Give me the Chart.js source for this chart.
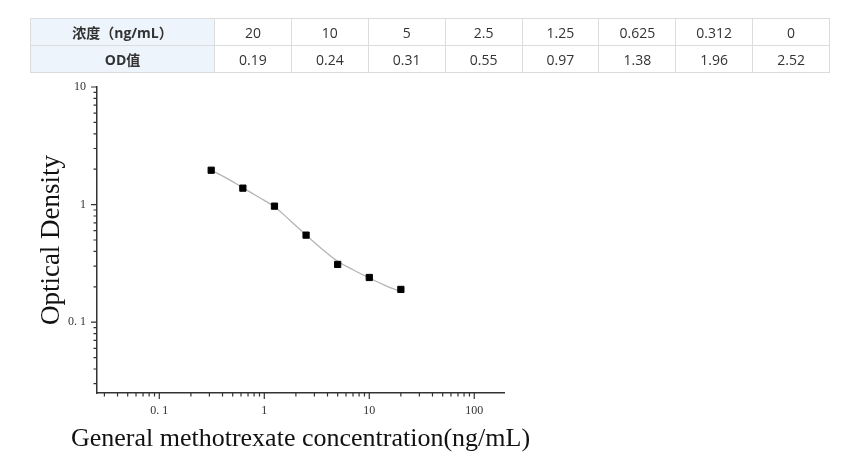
<!DOCTYPE html>
<html>
<head>
<meta charset="utf-8">
<script src="https://cdn.jsdelivr.net/npm/chart.js@4/dist/chart.umd.min.js"></script>
<style>
html,body{margin:0;padding:0;background:#fff;}
body{width:847px;height:457px;overflow:hidden;position:relative;}
#chart{position:absolute;left:0;top:0;}
#tbl{position:absolute;left:30px;top:18px;border-collapse:collapse;table-layout:fixed;width:800px;
  font-family:"Open Sans","Noto Sans CJK SC",sans-serif;font-size:14px;color:#333;z-index:2;}
#tbl td{border:1px solid #dcdcdc;padding:0;text-align:center;vertical-align:middle;}
#tbl tr{height:27px;}
#tbl td.h{background:#edf4fb;font-weight:bold;color:#333;}
</style>
</head>
<body>
<table id="tbl"><colgroup><col style="width:184px"></colgroup><tbody></tbody></table>
<canvas id="chart" width="847" height="457"></canvas>
<script>
// ---- data ----
const rowHeaders = ['浓度（ng/mL）', 'OD值'];
const tableConc = ['20', '10', '5', '2.5', '1.25', '0.625', '0.312', '0'];
const tableOD = ['0.19', '0.24', '0.31', '0.55', '0.97', '1.38', '1.96', '2.52'];

const conc = [20, 10, 5, 2.5, 1.25, 0.625, 0.312];
const od = [0.19, 0.24, 0.31, 0.55, 0.97, 1.38, 1.96];

// fitted curve
const curveX = [0.312, 0.44, 0.625, 0.88, 1.25, 1.77, 2.5, 3.54, 5, 7.07, 10, 14.1, 20];
const curveY = [1.96, 1.67, 1.39, 1.16, 0.96, 0.73, 0.55, 0.42, 0.33, 0.278, 0.238, 0.206, 0.182];

const xTickVals = [0.1, 1, 10, 100];
const xTickLabels = ['0. 1', '1', '10', '100'];
const yTickVals = [0.1, 1, 10];
const yTickLabels = ['0. 1', '1', '10'];

const xTitle = 'General methotrexate concentration(ng/mL)';
const yTitle = 'Optical Density';

// ---- table ----
const tbody = document.querySelector('#tbl tbody');
[[rowHeaders[0], tableConc], [rowHeaders[1], tableOD]].forEach(([h, vals]) => {
  const tr = document.createElement('tr');
  const th = document.createElement('td');
  th.className = 'h'; th.textContent = h; tr.appendChild(th);
  vals.forEach(v => { const td = document.createElement('td'); td.textContent = v; tr.appendChild(td); });
  tbody.appendChild(tr);
});

const serif = 'Liberation Serif';

// ---- tick marks (minor/major log ticks) and x-axis title ----
const logTicks = {
  id: 'logTicks',
  afterDraw(chart) {
    const ctx = chart.ctx, xs = chart.scales.x, ys = chart.scales.y, a = chart.chartArea;
    ctx.save();
    ctx.strokeStyle = '#333';
    ctx.lineWidth = 1.2;
    ctx.beginPath();
    for (let e = -3; e <= 3; e++) {
      for (let m = 1; m <= 9; m++) {
        const v = m * Math.pow(10, e);
        const len = m === 1 ? 6 : 3.5;
        if (v >= xs.min * 0.999 && v <= xs.max) {
          const px = xs.getPixelForValue(v);
          ctx.moveTo(px, a.bottom); ctx.lineTo(px, a.bottom + len);
        }
        if (v >= ys.min && v <= ys.max * 1.001) {
          const py = ys.getPixelForValue(v);
          ctx.moveTo(a.left, py); ctx.lineTo(a.left - len, py);
        }
      }
    }
    ctx.stroke();
    // x-axis title (drawn without width compression)
    ctx.fillStyle = '#111';
    ctx.font = '26px "' + serif + '"';
    ctx.textAlign = 'center';
    ctx.textBaseline = 'middle';
    ctx.fillText(xTitle, (a.left + a.right) / 2, xs.bottom - 18);
    ctx.restore();
  }
};

new Chart(document.getElementById('chart'), {
  type: 'scatter',
  data: {
    datasets: [
      {
        type: 'line',
        data: curveX.map((x, i) => ({x: x, y: curveY[i]})),
        borderColor: '#b4b4b4',
        borderWidth: 1.3,
        pointRadius: 0,
        tension: 0.4,
        fill: false,
        order: 2
      },
      {
        type: 'scatter',
        data: conc.map((x, i) => ({x: x, y: od[i]})),
        pointStyle: 'rect',
        pointRadius: 4.4,
        backgroundColor: '#000',
        borderColor: '#000',
        borderWidth: 1,
        order: 1
      }
    ]
  },
  options: {
    responsive: false,
    animation: false,
    devicePixelRatio: 1,
    events: [],
    plugins: { legend: { display: false }, tooltip: { enabled: false } },
    layout: { padding: { left: 33.8, top: 87, right: 343, bottom: 0 } },
    scales: {
      x: {
        type: 'logarithmic', position: 'bottom', min: 0.0255, max: 192,
        grid: { display: false, drawTicks: false },
        border: { display: true, color: '#333', width: 1.5 },
        afterBuildTicks(s) { s.ticks = xTickVals.map(v => ({ value: v })); },
        ticks: {
          autoSkip: false, maxRotation: 0, padding: 11, color: '#333',
          font: { family: serif, size: 12 },
          callback: (v) => xTickLabels[xTickVals.indexOf(v)]
        },
        title: { display: false },
        afterFit(s) { s.height = 64; }
      },
      y: {
        type: 'logarithmic', position: 'left', min: 0.025, max: 10,
        grid: { display: false, drawTicks: false },
        border: { display: true, color: '#333', width: 1.5 },
        afterBuildTicks(s) { s.ticks = yTickVals.map(v => ({ value: v })); },
        ticks: {
          autoSkip: false, padding: 11, color: '#333',
          font: { family: serif, size: 12 },
          callback: (v) => yTickLabels[yTickVals.indexOf(v)]
        },
        title: { display: true, text: yTitle, color: '#111', font: { family: serif, size: 27 }, padding: { top: 2, bottom: 0 } },
        afterFit(s) { s.width = 63.2; }
      }
    }
  },
  plugins: [logTicks]
});
</script>
</body>
</html>
